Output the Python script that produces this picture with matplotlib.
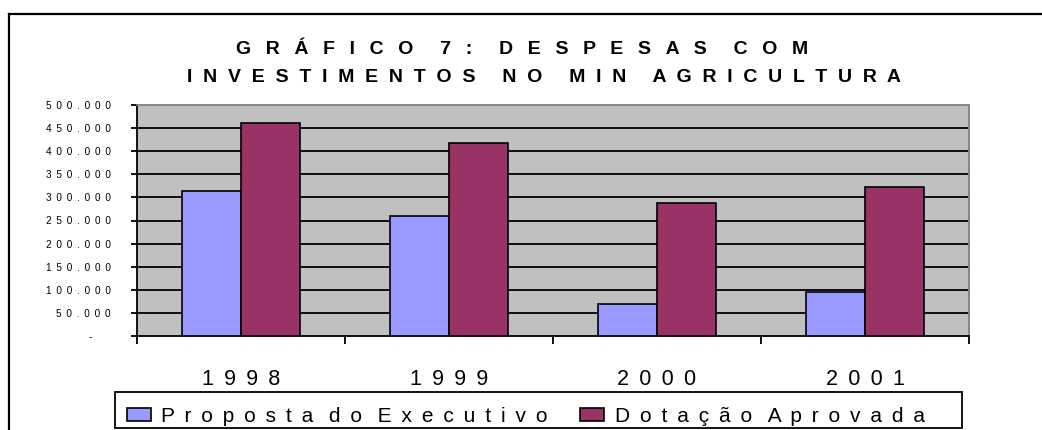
import matplotlib
matplotlib.use("Agg")
import matplotlib.pyplot as plt
from matplotlib.lines import Line2D
from matplotlib.patches import Patch, Rectangle
from matplotlib.ticker import FixedLocator, FuncFormatter

# ---- data ----
years = ["1998", "1999", "2000", "2001"]
proposta = [313000, 260000, 69000, 96000]
dotacao = [462000, 417000, 287000, 322000]
series_names = ["Proposta do Executivo", "Dotação Aprovada"]
title_lines = ["GRÁFICO 7: DESPESAS COM", "INVESTIMENTOS NO MIN AGRICULTURA"]
y_ticks = [0, 50000, 100000, 150000, 200000, 250000, 300000, 350000, 400000, 450000, 500000]

plt.rcParams['font.family'] = ['Liberation Sans', 'DejaVu Sans']

W, H = 1042, 430
fig = plt.figure(figsize=(W / 100, H / 100), dpi=100)
fig.patch.set_facecolor('white')

THIN = '\u2009'


def spaced(s, sep, wsep):
    return wsep.join(sep.join(w) for w in s.split(' '))


# axes placement (pixels -> fraction)
L, R, T, B = 137, 969, 105, 336
ax = fig.add_axes([L / W, 1 - B / H, (R - L) / W, (B - T) / H])
ax.set_facecolor('#C0C0C0')

n = len(years)
xs = list(range(n))
bw = 1 / 3.5
ax.bar([x - bw / 2 for x in xs], proposta, width=bw, color='#9999FF',
       edgecolor='black', linewidth=1.2, zorder=3, label=series_names[0])
ax.bar([x + bw / 2 for x in xs], dotacao, width=bw, color='#993366',
       edgecolor='black', linewidth=1.2, zorder=3, label=series_names[1])

ax.set_xlim(-0.5, n - 0.5)
ax.set_ylim(y_ticks[0], y_ticks[-1])

# gridlines (interior only; top edge is the grey frame)
ax.hlines(y_ticks[1:-1], -0.5, n - 0.5, colors='black', linewidth=1.3, zorder=1)

# spines
for s in ['left', 'bottom']:
    ax.spines[s].set_color('black')
    ax.spines[s].set_linewidth(1.3)
for s in ['top', 'right']:
    ax.spines[s].set_color('#808080')
    ax.spines[s].set_linewidth(1.3)

# y ticks
ax.yaxis.set_major_locator(FixedLocator(y_ticks))


def yfmt(v, pos):
    if v == 0:
        return '-' + ' ' * 6 + THIN
    s = f"{v:,.0f}".replace(',', '.')
    return (' ' + THIN).join(s)


ax.yaxis.set_major_formatter(FuncFormatter(yfmt))
ax.tick_params(axis='y', direction='out', length=4, width=1.3, color='black',
               labelsize=7.2, pad=15)

# x ticks: boundaries as major ticks, categories as minor labels
ax.xaxis.set_major_locator(FixedLocator([i - 0.5 for i in range(n + 1)]))
ax.xaxis.set_major_formatter(FuncFormatter(lambda v, p: ''))
ax.xaxis.set_minor_locator(FixedLocator(xs))
ax.xaxis.set_minor_formatter(FuncFormatter(lambda v, p: (' ' + THIN).join(years[int(round(v))])))
ax.tick_params(axis='x', which='major', direction='out', length=6, width=1.3, color='black')
ax.tick_params(axis='x', which='minor', length=0, labelsize=15.5, pad=24)

# title
fig.text(522 / W, 1 - 54 / H, spaced(title_lines[0], '  ' + THIN, '     '),
         ha='center', va='baseline', fontsize=14, fontweight='bold')
fig.text(544 / W, 1 - 82 / H, spaced(title_lines[1], '  ', '     '),
         ha='center', va='baseline', fontsize=14, fontweight='bold')

# legend (frame drawn as a separate box so the inner padding matches)
fig.add_artist(Rectangle((115 / W, 1 - 428 / H), (962 - 115) / W, 36 / H,
                         transform=fig.transFigure, facecolor='white',
                         edgecolor='black', linewidth=1.3, zorder=1))
handles = [Patch(facecolor='#9999FF', edgecolor='black', linewidth=1.2),
           Patch(facecolor='#993366', edgecolor='black', linewidth=1.2)]
labels = [spaced(s, ' ' + THIN, '  ' + THIN) for s in series_names]
fs = 15
leg = fig.legend(handles, labels, loc='center left',
                 bbox_to_anchor=(127 / W, 1 - 416 / H),
                 ncol=2, fontsize=fs, frameon=False, borderpad=0,
                 handlelength=24 / (fs * 100 / 72), handleheight=12 / (fs * 100 / 72),
                 handletextpad=0.5, columnspacing=1.55, borderaxespad=0)
leg.set_zorder(2)

# outer chart border (extends past the right and bottom of the image)
fig.add_artist(Line2D([9 / W, 9 / W], [0, 1 - 14 / H], transform=fig.transFigure,
                      color='black', linewidth=1.6))
fig.add_artist(Line2D([9 / W, 1], [1 - 14 / H, 1 - 14 / H], transform=fig.transFigure,
                      color='black', linewidth=1.6))

fig.savefig('out.png', dpi=100)
